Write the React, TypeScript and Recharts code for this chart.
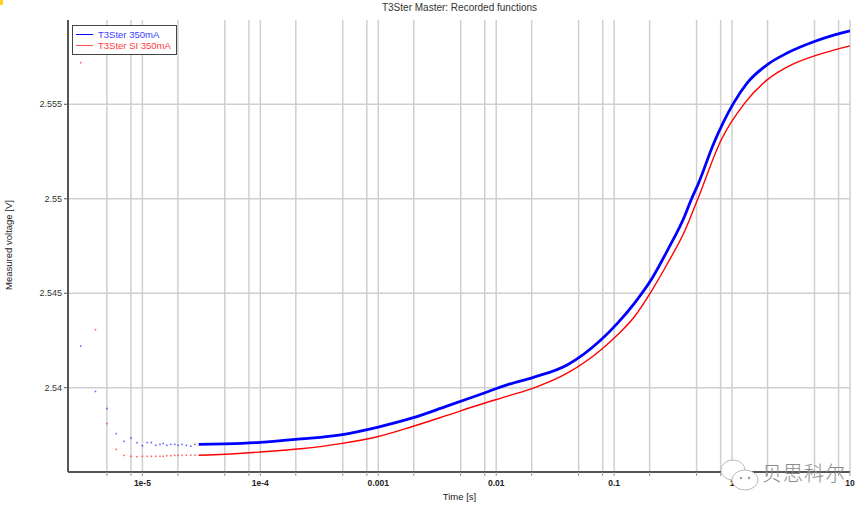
import React from "react";
import {
  ComposedChart,
  Line,
  Scatter,
  XAxis,
  YAxis,
  CartesianGrid,
  ReferenceArea,
  Legend,
} from "recharts";

// early, sparse samples (drawn as single dots)
const blueDotTimes = [3e-6, 4e-6, 5e-6, 6e-6, 7e-6, 8e-6, 9e-6, 1e-5, 1.1e-5, 1.19e-5, 1.3e-5, 1.41e-5, 1.5e-5, 1.61e-5, 1.74e-5, 1.88e-5, 2.01e-5, 2.17e-5, 2.36e-5, 2.57e-5, 2.79e-5];
const blueDotVolts = [2.5422, 2.5398, 2.5389, 2.53757, 2.53716, 2.53734, 2.53709, 2.53693, 2.5371, 2.5371, 2.53695, 2.537, 2.53705, 2.53695, 2.537, 2.537, 2.53695, 2.537, 2.53695, 2.53691, 2.537];
const redDotTimes = [3e-6, 4e-6, 5e-6, 6e-6, 7e-6, 8e-6, 9e-6, 1e-5, 1.1e-5, 1.19e-5, 1.3e-5, 1.41e-5, 1.5e-5, 1.61e-5, 1.74e-5, 1.88e-5, 2.01e-5, 2.17e-5, 2.36e-5, 2.57e-5, 2.79e-5];
const redDotVolts = [2.5572, 2.54307, 2.5381, 2.53674, 2.53642, 2.53637, 2.53635, 2.53637, 2.53637, 2.53637, 2.53637, 2.53637, 2.53637, 2.5364, 2.5364, 2.53642, 2.53642, 2.53642, 2.53643, 2.53643, 2.53643];

// dense part of the recorded functions
const blueTimes = [3e-5, 5e-5, 1e-4, 2.2e-4, 4.8e-4, 1e-3, 1.95e-3, 3.76e-3, 7.2e-3, 1.29e-2, 2.07e-2, 4.03e-2, 7.75e-2, 0.107, 0.149, 0.206, 0.285, 0.395, 0.45, 0.513, 0.7, 1.03, 1.34, 1.98, 2.93, 4.99, 7.4, 10];
const blueVolts = [2.537, 2.53703, 2.53711, 2.53729, 2.53751, 2.53792, 2.5384, 2.53901, 2.53963, 2.54019, 2.54055, 2.54122, 2.54254, 2.54342, 2.54448, 2.54571, 2.5473, 2.54906, 2.54995, 2.55074, 2.55294, 2.55506, 2.55612, 2.55709, 2.55771, 2.55832, 2.55867, 2.55889];
const redTimes = [3e-5, 5e-5, 1e-4, 2.2e-4, 4.8e-4, 1e-3, 1.95e-3, 3.76e-3, 7.2e-3, 1.29e-2, 2.07e-2, 4.03e-2, 7.75e-2, 0.107, 0.149, 0.206, 0.285, 0.395, 0.513, 0.81, 1.28, 1.98, 3.18, 4.99, 7.4, 10];
const redVolts = [2.53643, 2.53648, 2.5366, 2.53677, 2.53704, 2.53742, 2.53795, 2.53852, 2.5391, 2.53958, 2.53998, 2.54078, 2.54201, 2.5428, 2.54377, 2.54509, 2.5466, 2.54827, 2.55, 2.55312, 2.55506, 2.55629, 2.55709, 2.55756, 2.55788, 2.55809];

const xTicks = [5e-6, 8e-6, 1e-5, 2e-5, 5e-5, 8e-5, 1e-4, 2e-4, 5e-4, 8e-4, 1e-3, 2e-3, 5e-3, 8e-3, 1e-2, 2e-2, 5e-2, 8e-2, 0.1, 0.2, 0.5, 0.8, 1, 2, 5, 8, 10];
const xTickLabels = ["", "", "1e-5", "", "", "", "1e-4", "", "", "", "0.001", "", "", "", "0.01", "", "", "", "0.1", "", "", "", "1", "", "", "", "10"];
const yTicks = [2.54, 2.545, 2.55, 2.555];

const seriesNames = ["T3Ster 350mA", "T3Ster SI 350mA"];
const BLUE = "#0000ff";
const RED = "#ff0000";

const toPoints = (ts: number[], vs: number[]) => ts.map((t, i) => ({ t, v: vs[i] }));

const blueDots = toPoints(blueDotTimes, blueDotVolts);
const redDots = toPoints(redDotTimes, redDotVolts);
const blueLine = toPoints(blueTimes, blueVolts);
const redLine = toPoints(redTimes, redVolts);

const font = "'Liberation Sans', Arial, sans-serif";

const dot = (color: string) => (props: any) => (
  <rect x={props.cx - 0.8} y={props.cy - 0.8} width={1.6} height={1.6} fill={color} opacity={0.6} />
);

const LegendBox = () => (
  <div
    style={{
      width: 100,
      border: "1.5px solid #444",
      background: "#fff",
      padding: "3px 0 3px 3px",
      fontFamily: font,
      fontSize: 9.5,
      lineHeight: "11px",
    }}
  >
    {seriesNames.map((name, i) => (
      <div key={name} style={{ display: "flex", alignItems: "center" }}>
        <span style={{ width: 17, height: 0, borderTop: `1.5px solid ${i === 0 ? BLUE : "#ff5050"}`, marginRight: 5 }} />
        <span style={{ color: i === 0 ? "#3b3bff" : "#ff3b3b" }}>{name}</span>
      </div>
    ))}
  </div>
);

export default function App() {
  return (
    <div style={{ position: "absolute", left: 0, top: 0, width: 865, height: 509, background: "#fff", fontFamily: font }}>
      <div style={{ position: "absolute", left: 0, top: 0, width: 3, height: 5, background: "#ffd21f" }} />
      <div style={{ position: "absolute", left: 0, width: 919, top: 2, textAlign: "center", fontSize: 10, color: "#333" }}>
        T3Ster Master: Recorded functions
      </div>
      <div
        style={{
          position: "absolute",
          left: 8,
          top: 245,
          transform: "translate(-50%, -50%) rotate(-90deg)",
          whiteSpace: "nowrap",
          fontSize: 9.5,
          color: "#222",
        }}
      >
        Measured voltage [V]
      </div>
      <div style={{ position: "absolute", left: 0, width: 919, top: 491, textAlign: "center", fontSize: 9.5, color: "#222" }}>
        Time [s]
      </div>

      <ComposedChart
        width={865}
        height={509}
        margin={{ top: 20, right: 15, bottom: 7, left: 0 }}
        style={{ position: "absolute", left: 0, top: 0 }}
      >
        <CartesianGrid stroke="#cfcfcf" strokeWidth={1.5} horizontalValues={yTicks} />
        <XAxis
          dataKey="t"
          type="number"
          scale="log"
          domain={[2.34e-6, 10]}
          allowDataOverflow
          ticks={xTicks}
          interval={0}
          height={30}
          tickFormatter={(_v: number, i: number) => xTickLabels[i]}
          axisLine={{ stroke: "#555", strokeWidth: 2 }}
          tickLine={{ stroke: "#999", strokeWidth: 1 }}
          tickSize={4}
          tickMargin={4}
          tick={{ fill: "#222", fontSize: 8.5, fontWeight: 700, fontFamily: font }}
        />
        <YAxis
          dataKey="v"
          type="number"
          domain={[2.53554, 2.55946]}
          allowDataOverflow
          ticks={yTicks}
          width={68}
          axisLine={{ stroke: "#555", strokeWidth: 2 }}
          tickLine={{ stroke: "#555", strokeWidth: 1 }}
          tickSize={4}
          tickMargin={2}
          tick={{ fill: "#333", fontSize: 9, fontFamily: font }}
        />
        <ReferenceArea fill="none" stroke="#888" strokeWidth={1} ifOverflow="visible" />
        <Scatter data={redDots} shape={dot(RED)} isAnimationActive={false} />
        <Scatter data={blueDots} shape={dot(BLUE)} isAnimationActive={false} />
        <Line data={redLine} dataKey="v" type="monotone" stroke={RED} strokeWidth={1.4} dot={false} isAnimationActive={false} />
        <Line data={blueLine} dataKey="v" type="monotone" stroke={BLUE} strokeWidth={2.8} dot={false} isAnimationActive={false} />
        <Legend
          layout="vertical"
          align="center"
          verticalAlign="middle"
          wrapperStyle={{ left: 72, top: 25, width: "auto" }}
          content={() => <LegendBox />}
        />
      </ComposedChart>

      {/* watermark */}
      <svg width={865} height={509} style={{ position: "absolute", left: 0, top: 0, pointerEvents: "none" }}>
        <ellipse cx={733} cy={470} rx={12} ry={10} fill="#fff" stroke="#bbb" strokeWidth={1} />
        <ellipse cx={745} cy={480} rx={13} ry={10} fill="#fff" stroke="#bbb" strokeWidth={1} />
        <circle cx={741} cy={478} r={1.2} fill="#999" />
        <circle cx={749} cy={478} r={1.2} fill="#999" />
      </svg>
      <div
        style={{
          position: "absolute",
          left: 762,
          top: 458,
          fontFamily: "'Noto Sans CJK SC', sans-serif",
          fontSize: 20,
          fontWeight: 300,
          color: "#8a8a8a",
          letterSpacing: 1,
          whiteSpace: "nowrap",
        }}
      >
        贝思科尔
      </div>
    </div>
  );
}
